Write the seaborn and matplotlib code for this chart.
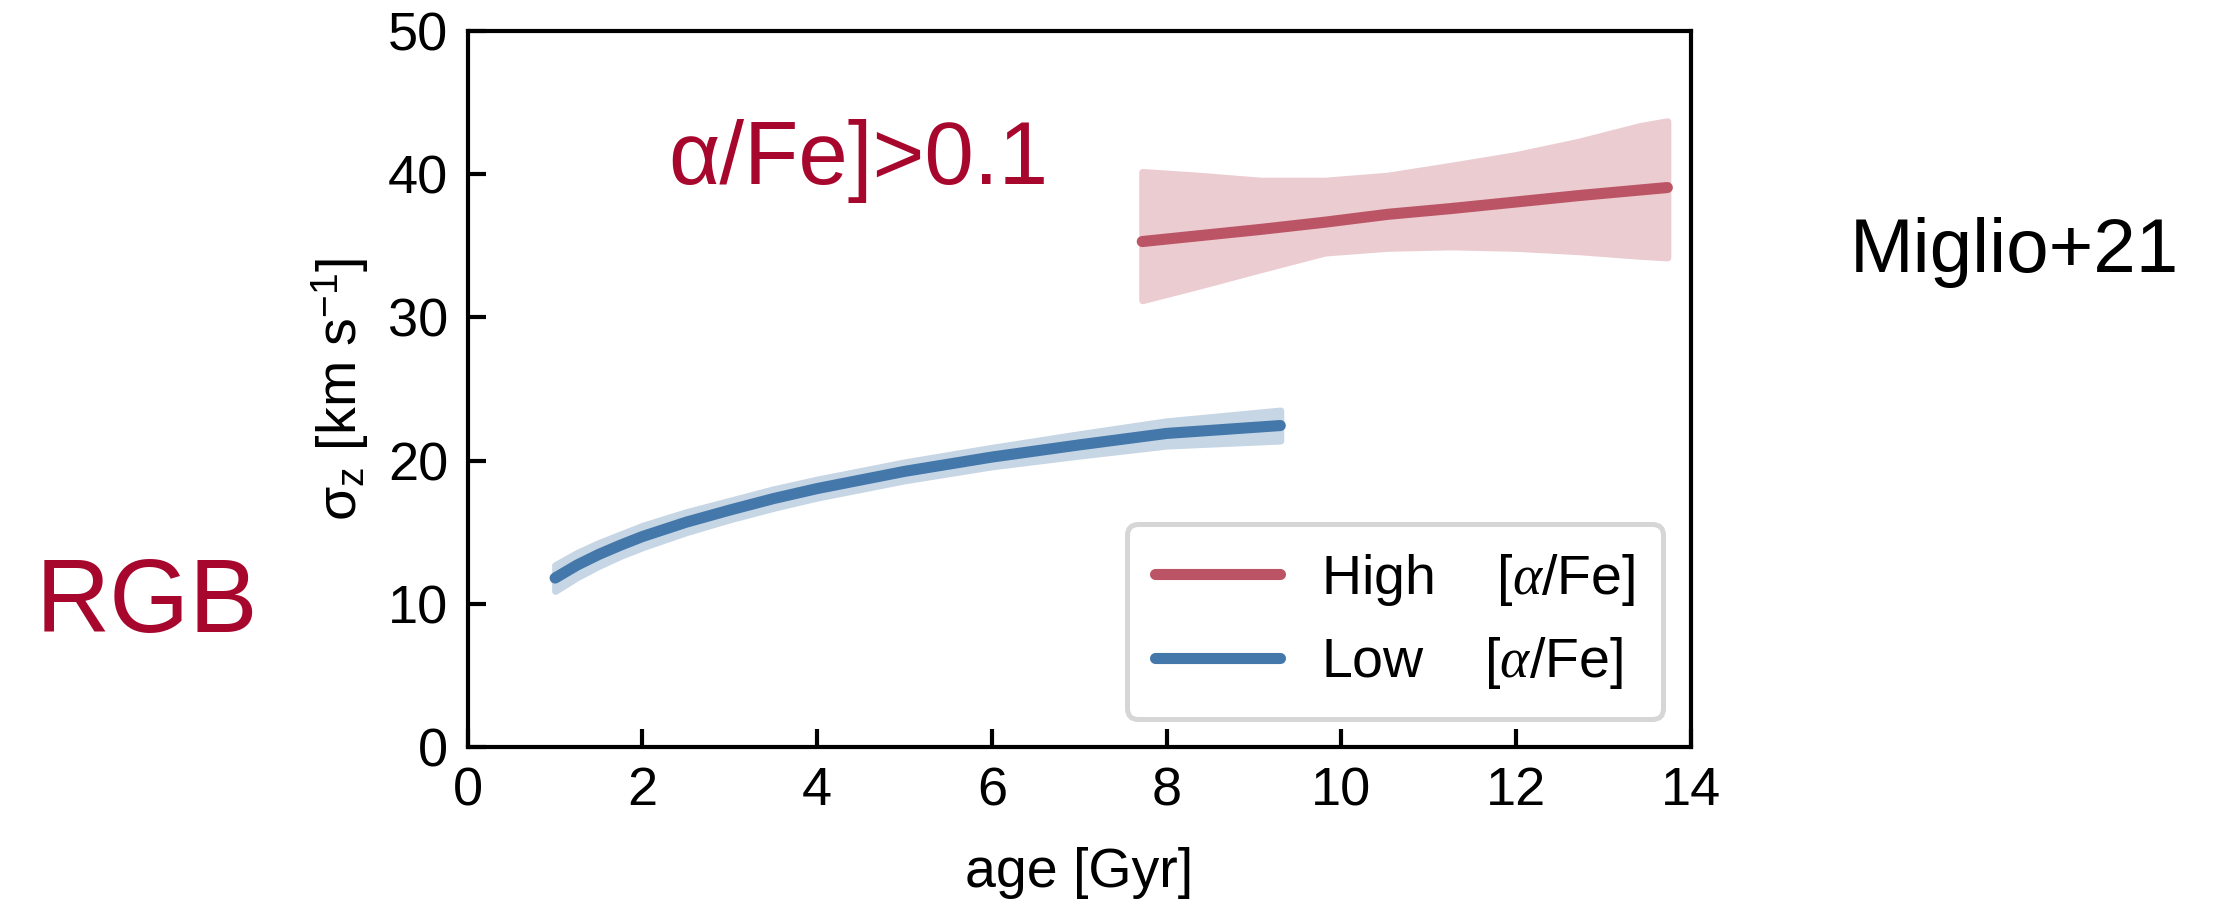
import matplotlib
matplotlib.use("Agg")
import matplotlib.pyplot as plt
import numpy as np
import pandas as pd
import seaborn as sns

# ---- data -------------------------------------------------------------
# low-[alpha/Fe] population: vertical velocity dispersion vs age
low_age = [1.0, 1.25, 1.5, 1.75, 2.0, 2.5, 3.0, 3.5, 4.0, 5.0, 6.0, 7.0, 8.0, 9.3]
low_sigma = [11.8, 12.7, 13.45, 14.1, 14.7, 15.7, 16.55, 17.35, 18.05, 19.25,
             20.25, 21.1, 21.9, 22.45]
low_lo = [10.9, 11.85, 12.65, 13.35, 13.95, 15.0, 15.9, 16.7, 17.42, 18.62,
          19.6, 20.35, 21.05, 21.4]
low_hi = [12.7, 13.55, 14.25, 14.85, 15.45, 16.4, 17.2, 18.0, 18.68, 19.88,
          20.9, 21.85, 22.75, 23.5]

# high-[alpha/Fe] population
high_age = [7.72, 8.36, 9.08, 9.81, 10.53, 11.25, 11.98, 12.70, 13.42, 13.73]
high_sigma = [35.3, 35.7, 36.15, 36.65, 37.2, 37.6, 38.05, 38.5, 38.9, 39.07]
high_lo = [31.2, 32.2, 33.37, 34.53, 34.86, 34.96, 34.86, 34.63, 34.3, 34.19]
high_hi = [40.16, 39.9, 39.55, 39.55, 39.9, 40.59, 41.32, 42.25, 43.37, 43.7]

labels = ["High    [$\\alpha$/Fe]", "Low    [$\\alpha$/Fe]"]
xticks = [0, 2, 4, 6, 8, 10, 12, 14]
yticks = [0, 10, 20, 30, 40, 50]

RED = "#BB5566"
BLUE = "#4477AA"
RED_BAND = "#EBCCD1"
BLUE_BAND = "#C7D6E5"
TEXT_RED = "#A8072D"
SANS = ["Liberation Sans", "DejaVu Sans"]

# ---- style ------------------------------------------------------------
sns.set_style("ticks")
plt.rcParams["font.family"] = SANS
plt.rcParams["text.color"] = "black"
plt.rcParams["axes.labelcolor"] = "black"
plt.rcParams["mathtext.fontset"] = "custom"
plt.rcParams["mathtext.rm"] = "Liberation Sans"
plt.rcParams["mathtext.it"] = "Liberation Serif:italic"
plt.rcParams["mathtext.default"] = "it"

fig = plt.figure(figsize=(11.11, 4.51), dpi=200)
ax = fig.add_axes([0.2105, 0.1718, 0.5505, 0.7938])

df = pd.concat([
    pd.DataFrame({"age": high_age, "sigma": high_sigma, "pop": labels[0]}),
    pd.DataFrame({"age": low_age, "sigma": low_sigma, "pop": labels[1]}),
])

# uncertainty bands
ax.fill_between(high_age, high_lo, high_hi, facecolor=RED_BAND,
                edgecolor=RED_BAND, lw=2.5, joinstyle="round", zorder=1)
ax.fill_between(low_age, low_lo, low_hi, facecolor=BLUE_BAND,
                edgecolor=BLUE_BAND, lw=2.5, joinstyle="round", zorder=1)

sns.lineplot(data=df, x="age", y="sigma", hue="pop",
             palette={labels[0]: RED, labels[1]: BLUE},
             estimator=None, sort=False, lw=4, ax=ax, zorder=3)

ax.set_xlim(0, 14)
ax.set_ylim(0, 50)
ax.set_xticks(xticks)
ax.set_yticks(yticks)
ax.tick_params(direction="in", length=6.5, width=1.5, labelsize=19.5,
               pad=7, top=False, right=False, colors="black")
for s in ax.spines.values():
    s.set_linewidth(1.5)
    s.set_color("black")

ax.set_xlabel("age [Gyr]", fontsize=20, labelpad=11, color="black")
ax.set_ylabel("σ$_{\\mathrm{z}}$ [km s$^{-1}$]", fontsize=20, labelpad=6,
              color="black")

handles, labs = ax.get_legend_handles_labels()
leg = ax.legend(handles, labs, loc="lower right", fontsize=20,
                frameon=True, fancybox=True, framealpha=1,
                edgecolor="#D6D6D6", facecolor="white", labelcolor="black",
                handlelength=2.25, handletextpad=0.75, labelspacing=0.5,
                borderpad=0.5)
leg.get_frame().set_linewidth(1.8)
for h in leg.get_lines():
    h.set_linewidth(4)

# annotations
ax.text(2.3, 39.3, "α/Fe]>0.1", fontsize=32, color=TEXT_RED,
        family=SANS, ha="left", va="baseline")
fig.text(0.0162, 0.2993, "RGB", fontsize=37, color=TEXT_RED,
         family=SANS, ha="left", va="baseline")
fig.text(0.8326, 0.6984, "Miglio+21", fontsize=27.5, color="black",
         family=SANS, ha="left", va="baseline")

fig.savefig("out.png", dpi=200, facecolor="white")
